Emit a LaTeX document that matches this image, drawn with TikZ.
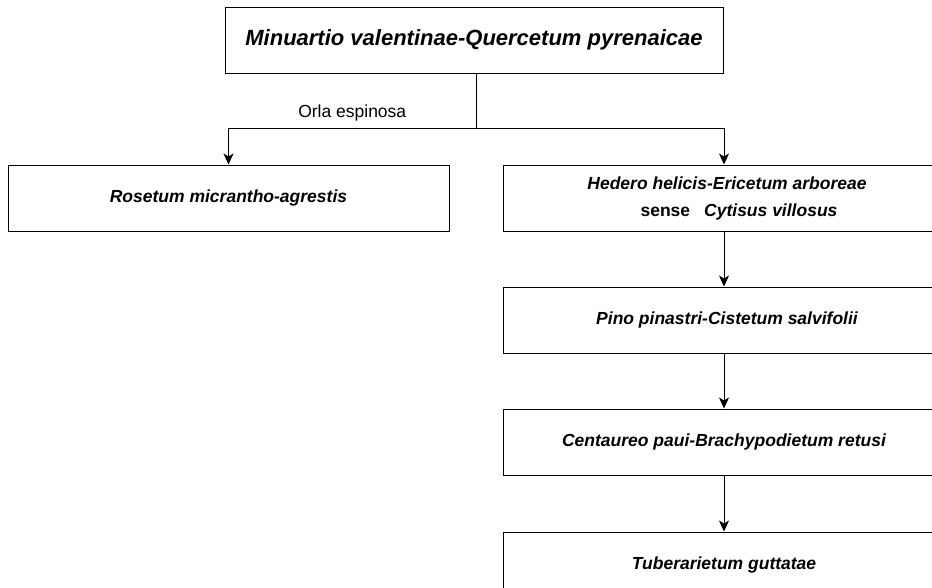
\documentclass[tikz,border=0pt]{standalone}
\usepackage{fontspec}
\setmainfont{Liberation Sans}
\usetikzlibrary{arrows.meta,positioning}
\tikzset{
  assoc/.style={draw, line width=1pt, minimum width=442pt, minimum height=66pt, inner sep=0pt,
    align=center, font=\fontsize{17.5}{27}\selectfont\bfseries\itshape},
  toptitle/.style={assoc, minimum width=498pt, font=\fontsize{22}{26}\selectfont\bfseries\itshape},
  link/.style={line width=1pt, -{Stealth[length=11pt,width=10pt,inset=3pt]}}
}
\begin{document}
\begin{tikzpicture}[x=1pt, y=-1pt]
  \useasboundingbox (0,0) rectangle (932,587);
  \clip (0,0) rectangle (932,587);
  % Top association
  \node[toptitle] (quercetum) at (474,40) {Minuartio valentinae-Quercetum pyrenaicae};
  \coordinate (split) at (476,128);
  % Left branch
  \node[assoc, minimum width=441pt] (rosetum) at (228.5,198) {Rosetum micrantho-agrestis};
  % Right series
  \node[assoc] (hedero) at (724,198) {\hspace*{6pt}Hedero helicis-Ericetum arboreae\\
    \hspace*{30pt}\upshape sense\hspace{14pt}\itshape Cytisus villosus};
  \node[assoc, below=55pt of hedero] (pino) {\hspace*{6pt}Pino pinastri-Cistetum salvifolii};
  \node[assoc, below=55pt of pino] (centaureo) {Centaureo paui-Brachypodietum retusi};
  \node[assoc, below=56pt of centaureo] (tuberaria) {Tuberarietum guttatae};
  % Connectors
  \draw[line width=1pt] (quercetum.south -| split) -- (split);
  \draw[link] (split) -| node[pos=0.25, above=3pt, font=\fontsize{17.5}{20}\selectfont] {Orla espinosa} (rosetum.north);
  \draw[link] (split) -| (hedero.north);
  \draw[link] (hedero) -- (pino);
  \draw[link] (pino) -- (centaureo);
  \draw[link] (centaureo) -- (tuberaria);
\end{tikzpicture}
\end{document}
